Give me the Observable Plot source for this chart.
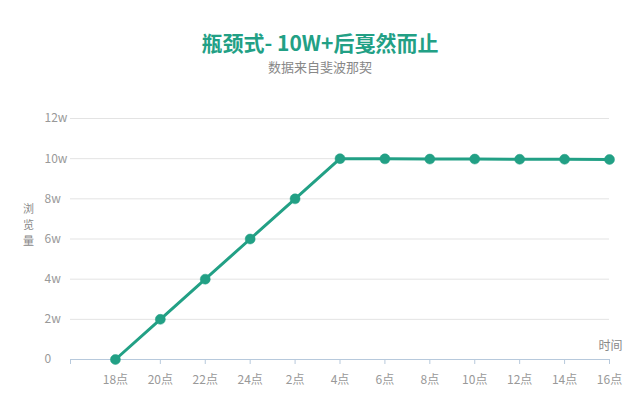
<!DOCTYPE html>
<html>
<head>
<meta charset="utf-8">
<script src="https://cdn.jsdelivr.net/npm/d3@7"></script>
<script src="https://cdn.jsdelivr.net/npm/@observablehq/plot@0.6"></script>
<style>
  body { margin: 0; background: #fff; font-family: "Noto Sans CJK SC", "Noto Sans", sans-serif; }
  #wrap { width: 640px; height: 400px; position: relative; overflow: hidden; }
  .title { text-align: center; font-size: 21px; font-weight: bold; color: #22a085; line-height: 24px; padding-top: 30px; height: 24px; }
  .subtitle { text-align: center; font-size: 13px; color: #888; line-height: 18px; margin-top: 4px; height: 18px; }
  svg { display: block; }
</style>
</head>
<body>
<div id="wrap">
  <div class="title">瓶颈式- 10W+后戛然而止</div>
  <div class="subtitle">数据来自斐波那契</div>
  <div id="chart"></div>
</div>
<script>
const categories = ["", "18点", "20点", "22点", "24点", "2点", "4点", "6点", "8点", "10点", "12点", "14点", "16点"];
const times = ["18点", "20点", "22点", "24点", "2点", "4点", "6点", "8点", "10点", "12点", "14点", "16点"];
const views = [0, 2, 4, 6, 8, 10, 9.99, 9.98, 9.98, 9.97, 9.97, 9.96]; // 单位: w
const yTicks = [0, 2, 4, 6, 8, 10, 12];
const yTickLabels = ["0", "2w", "4w", "6w", "8w", "10w", "12w"];
const yTitleChars = ["浏", "览", "量"];

const data = times.map((t, i) => ({ t, v: views[i] }));
const green = "#22a085";
const axisColor = "#b7c9dc";

const yTitleMarks = yTitleChars.map((c, i) =>
  Plot.text([c], { frameAnchor: "left", dx: -42, dy: -30 + i * 16, textAnchor: "middle", fill: "#888", fontSize: 11 })
);

const chart = Plot.plot({
  width: 640,
  height: 324,
  marginTop: 42,
  marginBottom: 41,
  marginLeft: 70,
  marginRight: 31,
  style: { fontFamily: "'Noto Sans CJK SC', sans-serif", background: "#fff" },
  x: { type: "point", domain: categories, padding: 0, round: false, axis: null },
  y: { domain: [0, 12], axis: null },
  marks: [
    Plot.gridY(yTicks.filter(d => d > 0), { stroke: "#e3e3e3", strokeOpacity: 1, strokeWidth: 1 }),
    Plot.text(yTicks, { y: d => d, text: (d, i) => yTickLabels[i], frameAnchor: "left", dx: -26, textAnchor: "start", fill: "#999", fontSize: 12 }),
    Plot.ruleY([0], { stroke: axisColor, strokeWidth: 1 }),
    Plot.axisX({ ticks: categories, tickFormat: d => d, tickSize: 5, tickPadding: 11, stroke: axisColor, color: "#999", fontSize: 12, label: null }),
    Plot.line(data, { x: "t", y: "v", stroke: green, strokeWidth: 3 }),
    Plot.dot(data, { x: "t", y: "v", r: 5, fill: green, stroke: green, strokeWidth: 0.5 }),
    Plot.text(["时间"], { frameAnchor: "bottom-right", dx: 13, dy: -10, textAnchor: "end", fill: "#888", fontSize: 12 }),
    ...yTitleMarks
  ]
});
document.getElementById("chart").appendChild(chart);
</script>
</body>
</html>
